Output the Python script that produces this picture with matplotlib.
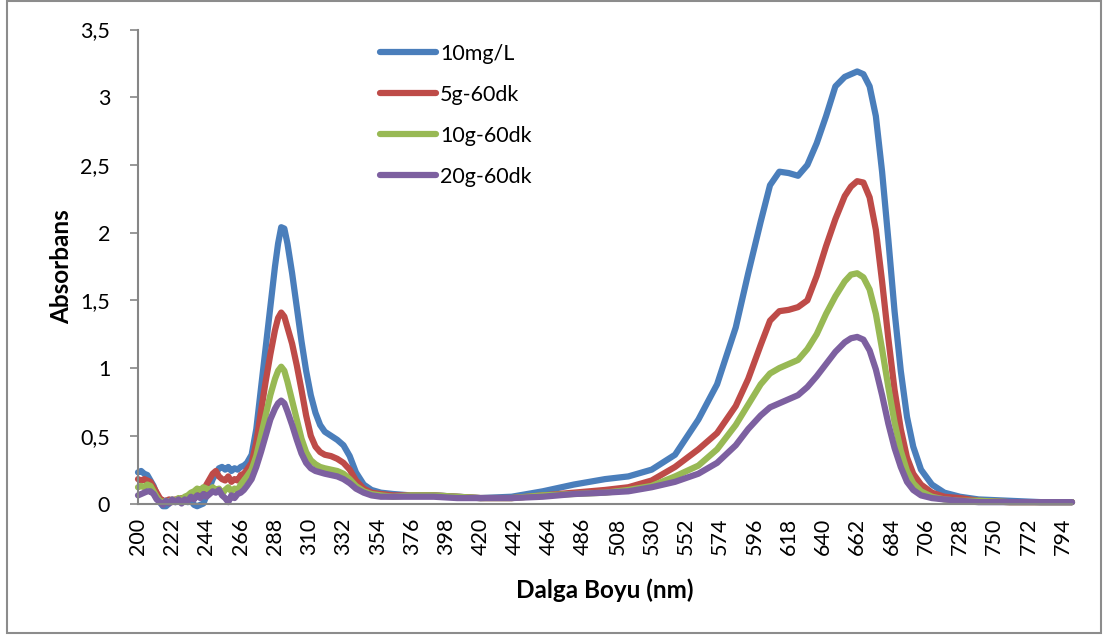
import numpy as np
import matplotlib
matplotlib.use("Agg")
import matplotlib.pyplot as plt
from matplotlib.patches import Rectangle

plt.rcParams['font.family'] = ['Lato', 'DejaVu Sans']

# wavelength points (nm)
wl = [200, 202, 204, 206, 208, 210, 212, 214, 216, 218, 220, 222, 224, 226, 228, 230, 232, 234,
      236, 238, 240, 242, 244, 246, 248, 250, 252, 254, 256, 258, 260, 262, 264, 266, 268, 270,
      273, 276, 279, 282, 285, 288, 290, 292, 294, 296, 299, 302, 305, 308, 311, 314, 317, 320,
      324, 328, 332, 336, 340, 345, 350, 356, 364,
      375, 390, 405, 420, 440, 460, 480, 500, 515, 530, 545, 560, 572, 584, 592, 600, 606, 612,
      618, 624, 630, 636, 642, 648, 654, 658, 662, 666, 670, 674, 678, 682, 686, 690, 694, 698,
      703, 710, 718, 728, 740, 760, 780, 800]

s_10mg = [0.23, 0.24, 0.22, 0.21, 0.17, 0.13, 0.07, 0.01, -0.02, -0.02, 0.00, 0.02, 0.01, 0.03, 0.02, 0.03, 0.01, 0.02,
          -0.01, -0.02, -0.01, 0.00, 0.06, 0.12, 0.18, 0.22, 0.26, 0.27, 0.25, 0.27, 0.24, 0.26, 0.25, 0.27, 0.28, 0.30,
          0.36, 0.55, 0.85, 1.15, 1.45, 1.75, 1.92, 2.04, 2.03, 1.92, 1.70, 1.45, 1.20, 0.98, 0.80, 0.67, 0.58, 0.53,
          0.50, 0.47, 0.43, 0.35, 0.23, 0.14, 0.10, 0.08, 0.07,
          0.06, 0.06, 0.05, 0.04, 0.05, 0.09, 0.14, 0.18, 0.20, 0.25, 0.36, 0.62, 0.88, 1.30, 1.70, 2.08, 2.35, 2.45,
          2.44, 2.42, 2.50, 2.66, 2.86, 3.08, 3.15, 3.17, 3.19, 3.17, 3.08, 2.86, 2.45, 1.95, 1.42, 0.98, 0.64, 0.42,
          0.25, 0.14, 0.08, 0.05, 0.03, 0.02, 0.01, 0.01]

s_5g = [0.18, 0.17, 0.18, 0.17, 0.16, 0.12, 0.08, 0.04, 0.02, 0.02, 0.03, 0.01, 0.03, 0.02, 0.04, 0.03, 0.05, 0.04,
        0.06, 0.08, 0.07, 0.10, 0.14, 0.18, 0.22, 0.24, 0.20, 0.18, 0.17, 0.20, 0.16, 0.18, 0.17, 0.21, 0.22, 0.25,
        0.30, 0.45, 0.68, 0.90, 1.10, 1.28, 1.37, 1.41, 1.38, 1.30, 1.18, 1.02, 0.84, 0.65, 0.50, 0.42, 0.38, 0.36,
        0.35, 0.33, 0.30, 0.25, 0.17, 0.11, 0.08, 0.07, 0.06,
        0.06, 0.06, 0.05, 0.04, 0.04, 0.06, 0.08, 0.10, 0.12, 0.17, 0.27, 0.40, 0.52, 0.72, 0.92, 1.17, 1.35, 1.42,
        1.43, 1.45, 1.50, 1.68, 1.90, 2.10, 2.27, 2.34, 2.38, 2.37, 2.26, 2.02, 1.64, 1.22, 0.84, 0.55, 0.34, 0.22,
        0.14, 0.08, 0.05, 0.04, 0.02, 0.01, 0.01, 0.01]

s_10g = [0.12, 0.13, 0.12, 0.14, 0.13, 0.09, 0.05, 0.02, 0.01, 0.02, 0.01, 0.03, 0.02, 0.04, 0.03, 0.05, 0.06, 0.08,
         0.09, 0.11, 0.10, 0.12, 0.11, 0.10, 0.12, 0.10, 0.11, 0.07, 0.10, 0.12, 0.09, 0.11, 0.10, 0.14, 0.17, 0.20,
         0.25, 0.35, 0.50, 0.65, 0.80, 0.92, 0.98, 1.01, 0.98, 0.90, 0.76, 0.62, 0.48, 0.38, 0.32, 0.29, 0.27, 0.26,
         0.25, 0.24, 0.22, 0.18, 0.13, 0.09, 0.07, 0.06, 0.05,
         0.06, 0.06, 0.05, 0.04, 0.04, 0.06, 0.07, 0.08, 0.10, 0.13, 0.20, 0.28, 0.40, 0.58, 0.73, 0.88, 0.96, 1.00,
         1.03, 1.06, 1.14, 1.25, 1.40, 1.53, 1.64, 1.69, 1.70, 1.67, 1.58, 1.40, 1.14, 0.86, 0.60, 0.39, 0.24, 0.15,
         0.09, 0.05, 0.03, 0.02, 0.02, 0.01, 0.01, 0.01]

s_20g = [0.06, 0.07, 0.08, 0.09, 0.09, 0.07, 0.03, 0.01, -0.01, 0.02, 0.00, 0.03, 0.01, 0.03, 0.00, 0.03, 0.02, 0.05,
         0.03, 0.06, 0.04, 0.07, 0.05, 0.07, 0.09, 0.08, 0.10, 0.06, 0.04, 0.01, 0.06, 0.04, 0.07, 0.08, 0.10, 0.13,
         0.18, 0.27, 0.38, 0.50, 0.62, 0.70, 0.74, 0.76, 0.74, 0.68, 0.58, 0.47, 0.37, 0.30, 0.26, 0.24, 0.23, 0.22,
         0.21, 0.20, 0.18, 0.15, 0.11, 0.08, 0.06, 0.05, 0.05,
         0.05, 0.05, 0.04, 0.04, 0.04, 0.05, 0.07, 0.08, 0.09, 0.12, 0.16, 0.22, 0.30, 0.43, 0.55, 0.65, 0.71, 0.74,
         0.77, 0.80, 0.86, 0.94, 1.03, 1.12, 1.19, 1.22, 1.23, 1.21, 1.13, 0.99, 0.80, 0.59, 0.41, 0.27, 0.16, 0.10,
         0.06, 0.04, 0.03, 0.02, 0.01, 0.01, 0.01, 0.01]

labels = ['10mg/L', '5g-60dk', '10g-60dk', '20g-60dk']
colors = ['#4A7EBB', '#BE4B48', '#98B954', '#7D60A0']
series = [s_10mg, s_5g, s_10g, s_20g]

xticks = list(range(200, 800, 22))
yticks = [0, 0.5, 1, 1.5, 2, 2.5, 3, 3.5]
ytick_labels = ['0', '0,5', '1', '1,5', '2', '2,5', '3', '3,5']

fig = plt.figure(figsize=(11.04, 6.39), dpi=100)
W, H = 1104, 639
ax = fig.add_axes([138 / W, 1 - 503.5 / H, (1072 - 138) / W, (503.5 - 29.5) / H])

for y, lab, c in zip(series, labels, colors):
    ax.plot(wl, y, color=c, lw=4.5, label=lab, clip_on=False, solid_capstyle='round')

ax.set_xlim(200, 800)
ax.set_ylim(0, 3.5)
ax.set_xticks(xticks)
ax.set_xticklabels([str(t) for t in xticks], rotation=90, fontsize=15.5)
ax.set_yticks(yticks)
ax.set_yticklabels(ytick_labels, fontsize=15.5)
ax.tick_params(axis='x', length=0, pad=10)
ax.tick_params(axis='y', length=6, width=1.2, color='#868686', pad=14)

for side in ['top', 'right']:
    ax.spines[side].set_visible(False)
for side in ['left', 'bottom']:
    ax.spines[side].set_color('#868686')
    ax.spines[side].set_linewidth(1.5)

ax.set_xlabel('Dalga Boyu (nm)', fontsize=17.5, fontweight='bold', labelpad=17)
ax.set_ylabel('Absorbans', fontsize=17.5, fontweight='bold', labelpad=5)

ax.legend(loc='upper left', bbox_to_anchor=(380 / W, 1 - 44 / H), bbox_transform=fig.transFigure,
          frameon=False, fontsize=15.5, handlelength=2.6, handletextpad=0.2, labelspacing=0.97,
          borderpad=0, borderaxespad=0)

fig.patches.append(Rectangle((7 / W, 1 - 633 / H), (1101 - 7) / W, (633 - 1) / H,
                             transform=fig.transFigure, fill=False, edgecolor='#8C8C8C', lw=1.5))

fig.savefig('out.png', dpi=100)
